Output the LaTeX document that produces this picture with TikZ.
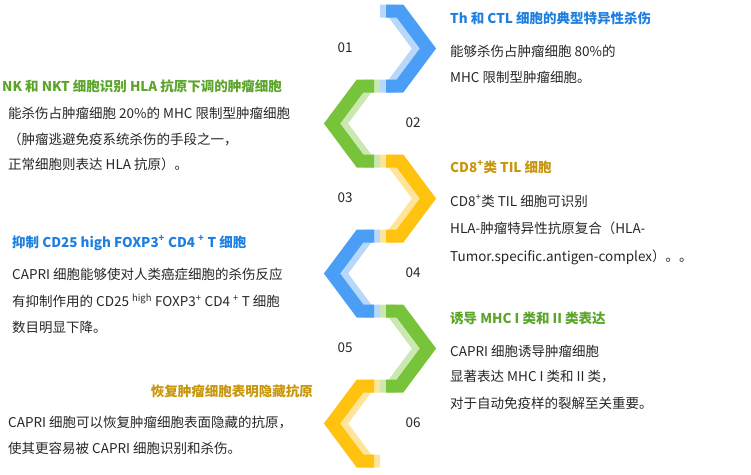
\documentclass[tikz,border=0pt]{standalone}
\usepackage{fontspec}
\setmainfont{Noto Sans CJK SC}
\begin{document}
\begin{tikzpicture}[x=1pt,y=-1pt,
  txt/.style={anchor=west,inner sep=0pt,font=\fontsize{13.5}{16}\selectfont,text=black!85},
  ttl/.style={anchor=west,inner sep=0pt,font=\fontsize{13.5}{16}\selectfont\bfseries},
  num/.style={inner sep=0pt,font=\fontsize{13.5}{16}\selectfont,text=black!85},
  band/.style={line width=13pt,line cap=butt,line join=miter}]
\definecolor{cb}{HTML}{4A9EF5}\definecolor{cbl}{HTML}{B8D8FB}
\definecolor{cg}{HTML}{77C43A}\definecolor{cgl}{HTML}{CBE8B3}
\definecolor{cy}{HTML}{FFC20E}\definecolor{cyl}{HTML}{FFE59A}
\definecolor{tb}{HTML}{1E7FE0}\definecolor{tg}{HTML}{5BA52A}\definecolor{ty}{HTML}{C8960A}
\useasboundingbox (0,0) rectangle (751,474);
% right chevrons
\foreach \y/\c in {11/cb,161/cy,311/cg}{
  \draw[band,\c l] (380,\y) -- (392,\y) -- (420,\y+37.5) -- (392,\y+75) -- (380,\y+75);
  \draw[band,\c] (386,\y) -- (400,\y) -- (428,\y+37.5) -- (400,\y+75) -- (386,\y+75);
}
% left chevrons
\foreach \y/\c in {86/cg,236/cb,386/cy}{
  \draw[band,\c l] (380,\y) -- (368,\y) -- (340,\y+37.5) -- (368,\y+75) -- (380,\y+75);
  \draw[band,\c] (374,\y) -- (360,\y) -- (332,\y+37.5) -- (360,\y+75) -- (374,\y+75);
}
\node[num] (n1) at (345,48) {01};
\node[num] (n2) at (413,123) {02};
\node[num] (n3) at (345,198) {03};
\node[num] (n4) at (413,273) {04};
\node[num] (n5) at (345,348) {05};
\node[num] (n6) at (413,423) {06};
% right texts
\node[ttl,text=tb] (t1) at (450,18) {Th 和 CTL 细胞的典型特异性杀伤};
\node[txt] (b1a) at (450,51) {能够杀伤占肿瘤细胞 80\%的};
\node[txt] (b1b) at (450,77) {MHC 限制型肿瘤细胞。};
\node[ttl,text=ty] (t3) at (450,167) {CD8\textsuperscript{+}类 TIL 细胞};
\node[txt] (b3a) at (450,201) {CD8\textsuperscript{+}类 TIL 细胞可识别};
\node[txt] (b3b) at (450,228) {HLA-肿瘤特异性抗原复合（HLA-};
\node[txt] (b3c) at (450,257) {Tumor.specific.antigen-complex）。。};
\node[ttl,text=tg] (t5) at (450,318) {诱导 MHC I 类和 II 类表达};
\node[txt] (b5a) at (450,351) {CAPRI 细胞诱导肿瘤细胞};
\node[txt] (b5b) at (450,377) {显著表达 MHC I 类和 II 类，};
\node[txt] (b5c) at (450,403) {对于自动免疫样的裂解至关重要。};
% left texts
\node[ttl,text=tg] (t2) at (2,86) {NK 和 NKT 细胞识别 HLA 抗原下调的肿瘤细胞};
\node[txt] (b2a) at (8,113) {能杀伤占肿瘤细胞 20\%的 MHC 限制型肿瘤细胞};
\node[txt] (b2b) at (8,139) {（肿瘤逃避免疫系统杀伤的手段之一，};
\node[txt] (b2c) at (8,164) {正常细胞则表达 HLA 抗原）。};
\node[ttl,text=tb] (t4) at (12,243) {抑制 CD25 high FOXP3\textsuperscript{+} CD4 \textsuperscript{+} T 细胞};
\node[txt] (b4a) at (12,274) {CAPRI 细胞能够使对人类癌症细胞的杀伤反应};
\node[txt] (b4b) at (12,301) {有抑制作用的 CD25 \textsuperscript{high} FOXP3\textsuperscript{+} CD4 \textsuperscript{+} T 细胞};
\node[txt] (b4c) at (12,327) {数目明显下降。};
\node[ttl,text=ty,anchor=east] (t6) at (313,391) {恢复肿瘤细胞表明隐藏抗原};
\node[txt] (b6a) at (8,422) {CAPRI 细胞可以恢复肿瘤细胞表面隐藏的抗原，};
\node[txt] (b6b) at (8,448) {使其更容易被 CAPRI 细胞识别和杀伤。};
\end{tikzpicture}
\end{document}
